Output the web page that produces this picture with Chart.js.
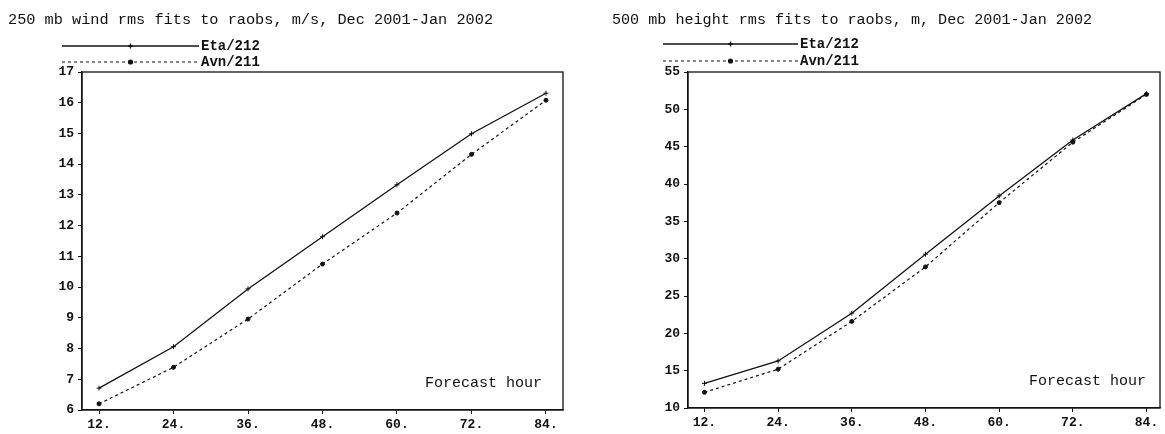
<!DOCTYPE html>
<html><head><meta charset="utf-8">
<script src="https://cdn.jsdelivr.net/npm/chart.js@4.4.1/dist/chart.umd.min.js"></script>
<style>
html,body{margin:0;padding:0;background:#fff;width:1165px;height:434px;overflow:hidden}
.box{position:absolute;top:0;height:434px}
canvas{display:block}
</style></head><body>
<div class="box" style="left:0;width:580px"><canvas id="c1" width="580" height="434"></canvas></div>
<div class="box" style="left:580px;width:585px"><canvas id="c2" width="585" height="434"></canvas></div>
<script>
// ---- data ----
const forecastHours = [12, 24, 36, 48, 60, 72, 84];
const windEta = [6.71, 8.06, 9.94, 11.64, 13.33, 14.99, 16.31];
const windAvn = [6.20, 7.39, 8.96, 10.75, 12.41, 14.32, 16.08];
const heightEta = [13.3, 16.3, 22.7, 30.6, 38.4, 45.9, 52.1];
const heightAvn = [12.1, 15.2, 21.6, 28.9, 37.5, 45.6, 52.0];
const seriesNames = ['Eta/212', 'Avn/211'];
const windTitle = '250 mb wind rms fits to raobs, m/s, Dec 2001-Jan 2002';
const heightTitle = '500 mb height rms fits to raobs, m, Dec 2001-Jan 2002';
const xAxisNote = 'Forecast hour';

const MONO = '"Liberation Mono", "DejaVu Sans Mono", monospace';
const INK = '#111';

function makeChart(id, c) {
  const decor = {
    id: 'decor',
    afterDraw(chart) {
      const ctx = chart.ctx, a = chart.chartArea;
      ctx.save();
      // frame
      ctx.strokeStyle = INK; ctx.lineWidth = 1.3; ctx.setLineDash([]);
      ctx.strokeRect(a.left, a.top, a.right - a.left, a.bottom - a.top);
      // title
      ctx.fillStyle = INK;
      ctx.font = c.titleSize + 'px ' + MONO;
      ctx.textBaseline = 'middle'; ctx.textAlign = 'left';
      ctx.fillText(c.title, c.titleX, 20);
      // legend
      chart.data.datasets.forEach((ds, i) => {
        const y = c.legendY[i];
        ctx.strokeStyle = ds.borderColor; ctx.lineWidth = ds.borderWidth;
        ctx.setLineDash(ds.borderDash || []);
        ctx.beginPath(); ctx.moveTo(c.legendX0, y); ctx.lineTo(c.legendX1, y); ctx.stroke();
        ctx.setLineDash([]);
        Chart.helpers.drawPoint(ctx, {
          pointStyle: ds.pointStyle, radius: ds.pointRadius, rotation: 0,
          borderWidth: ds.pointBorderWidth
        }, (c.legendX0 + c.legendX1) / 2, y);
        ctx.fillStyle = INK; ctx.strokeStyle = INK;
        ctx.font = 'bold 14px ' + MONO;
        ctx.textAlign = 'left'; ctx.textBaseline = 'middle';
        ctx.fillText(ds.label, c.legendX1 + 2, y);
      });
      // x note
      ctx.font = '15px ' + MONO; ctx.textAlign = 'right'; ctx.textBaseline = 'middle';
      ctx.fillStyle = INK;
      ctx.fillText(xAxisNote, a.right - c.noteRight, c.noteY);
      ctx.restore();
    }
  };
  return new Chart(document.getElementById(id), {
    type: 'line',
    data: {
      datasets: [
        {
          label: seriesNames[0],
          data: forecastHours.map((h, i) => ({ x: h, y: c.eta[i] })),
          borderColor: INK, backgroundColor: INK, borderWidth: 1.3,
          pointStyle: 'cross', pointRadius: 2.5, pointBorderWidth: 1,
          pointBorderColor: INK, tension: 0, fill: false
        },
        {
          label: seriesNames[1],
          data: forecastHours.map((h, i) => ({ x: h, y: c.avn[i] })),
          borderColor: INK, backgroundColor: INK, borderWidth: 1.2, borderDash: [3, 3],
          pointStyle: 'circle', pointRadius: 2, pointBorderWidth: 1,
          pointBackgroundColor: INK, pointBorderColor: INK, tension: 0, fill: false
        }
      ]
    },
    options: {
      responsive: false, animation: false, events: [],
      layout: { padding: { top: c.top, right: c.padRight, left: 0, bottom: 0 } },
      plugins: { legend: { display: false }, title: { display: false }, tooltip: { enabled: false } },
      scales: {
        x: {
          type: 'linear', min: c.xMin, max: c.xMax,
          afterBuildTicks: s => { s.ticks = forecastHours.map(v => ({ value: v })); },
          afterFit: s => { s.height = c.xHeight; },
          ticks: { callback: v => v + '.', autoSkip: false, maxRotation: 0, padding: 3,
                   color: INK, font: { family: MONO, size: 13, weight: 'bold' } },
          grid: { drawOnChartArea: false, drawTicks: true, tickLength: 4, color: INK, lineWidth: 1 },
          border: { display: true, color: INK, width: 1.3 }
        },
        y: {
          min: c.yMin, max: c.yMax,
          afterFit: s => { s.width = c.yWidth; },
          ticks: { stepSize: c.yStep, padding: 4, color: INK,
                   font: { family: MONO, size: 13, weight: 'bold' } },
          grid: { drawOnChartArea: false, drawTicks: true, tickLength: 4, color: INK, lineWidth: 1 },
          border: { display: true, color: INK, width: 1.3 }
        }
      }
    },
    plugins: [decor]
  });
}

makeChart('c1', {
  title: windTitle, titleX: 8, titleSize: 15.25, eta: windEta, avn: windAvn,
  yMin: 6, yMax: 17, yStep: 1, xMin: 9.26, xMax: 86.74,
  top: 72, padRight: 17, yWidth: 82, xHeight: 24,
  legendX0: 62, legendX1: 199, legendY: [46, 62],
  noteRight: 21, noteY: 383
});
makeChart('c2', {
  title: heightTitle, titleX: 32, titleSize: 15.1, eta: heightEta, avn: heightAvn,
  yMin: 10, yMax: 55, yStep: 5, xMin: 9.32, xMax: 86.2,
  top: 72, padRight: 2, yWidth: 108, xHeight: 26,
  legendX0: 83, legendX1: 218, legendY: [44, 61],
  noteRight: 14, noteY: 381
});
</script>
</body></html>
